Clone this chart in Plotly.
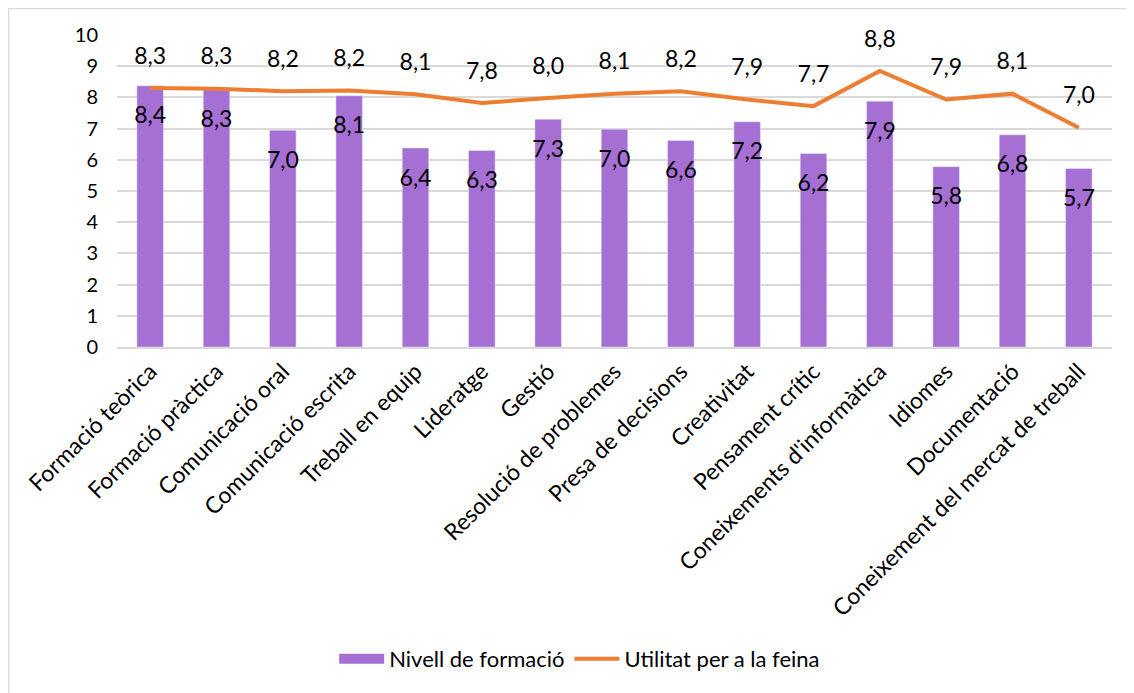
import plotly.graph_objects as go

categories = [
    'Formació teòrica', 'Formació pràctica', 'Comunicació oral', 'Comunicació escrita',
    'Treball en equip', 'Lideratge', 'Gestió', 'Resolució de problemes',
    'Presa de decisions', 'Creativitat', 'Pensament crític', "Coneixements d'informàtica",
    'Idiomes', 'Documentació', 'Coneixement del mercat de treball',
]
nivell = [8.37, 8.25, 6.95, 8.05, 6.38, 6.3, 7.3, 6.98, 6.62, 7.22, 6.2, 7.88, 5.78, 6.8, 5.72]
utilitat = [8.3, 8.28, 8.2, 8.22, 8.1, 7.82, 7.98, 8.12, 8.2, 7.93, 7.72, 8.85, 7.93, 8.12, 7.03]
y_ticks = list(range(0, 11))

FONT = 'Lato'
PURPLE = '#A66FD4'
ORANGE = '#ED7D31'
GREY = '#D9D9D9'
# page body has an 8px margin, so the figure is a bit smaller than the window
W, H = 1126, 685
L, R, T, B = 109, 22, 27, 346

fig = go.Figure()

fig.add_trace(go.Bar(
    x=categories, y=nivell, name='Nivell de formació',
    marker=dict(color=PURPLE), width=0.4, showlegend=False,
))

fig.add_trace(go.Scatter(
    x=categories, y=utilitat, name='Utilitat per a la feina',
    mode='lines', line=dict(color=ORANGE, width=4), showlegend=False,
))

# data labels: bars just under the top, line above the points
fig.add_trace(go.Scatter(
    x=categories, y=nivell, mode='markers+text', showlegend=False, hoverinfo='skip',
    marker=dict(size=31, opacity=0), texttemplate='%{y:.1f}', textposition='bottom center',
    textfont=dict(size=23, color='black', family=FONT), cliponaxis=False,
))
fig.add_trace(go.Scatter(
    x=categories, y=utilitat, mode='markers+text', showlegend=False, hoverinfo='skip',
    marker=dict(size=28, opacity=0), texttemplate='%{y:.1f}', textposition='top center',
    textfont=dict(size=23, color='black', family=FONT), cliponaxis=False,
))

# legend entries (Excel-like swatches)
fig.add_trace(go.Scatter(x=[None], y=[None], mode='lines', name='Nivell de formació',
                         line=dict(color=PURPLE, width=14)))
fig.add_trace(go.Scatter(x=[None], y=[None], mode='lines', name='Utilitat per a la feina',
                         line=dict(color=ORANGE, width=4)))

# chart border (light grey frame)
pw, ph = W - L - R, H - T - B
fig.add_shape(type='rect', xref='paper', yref='paper',
              x0=(0.5 - L) / pw, x1=(W + 20 - L) / pw,
              y0=(H - B - H - 20) / ph, y1=(H - B - 0.5) / ph,
              line=dict(color=GREY, width=1.5), layer='below')

fig.update_layout(
    width=W, height=H,
    margin=dict(l=L, r=R, t=T, b=B, autoexpand=False),
    plot_bgcolor='white', paper_bgcolor='white',
    separators=',.',
    font=dict(family=FONT, size=20, color='black'),
    showlegend=True,
    legend=dict(orientation='h', x=0.465, xanchor='center', y=-1.0, yanchor='middle',
                font=dict(size=22), itemwidth=45, tracegroupgap=0),
)

fig.update_xaxes(range=[-0.5, len(categories) - 0.5], tickangle=-45, tickfont=dict(size=23),
                 showline=True, automargin=False, linecolor=GREY, linewidth=2, ticks='')
fig.update_yaxes(range=[0, 10], tickvals=y_ticks, showgrid=True, gridcolor=GREY,
                 gridwidth=1.5, zeroline=False, tickfont=dict(size=20), automargin=False,
                 ticks='', ticklabelstandoff=18)

fig.write_html('out.html')
